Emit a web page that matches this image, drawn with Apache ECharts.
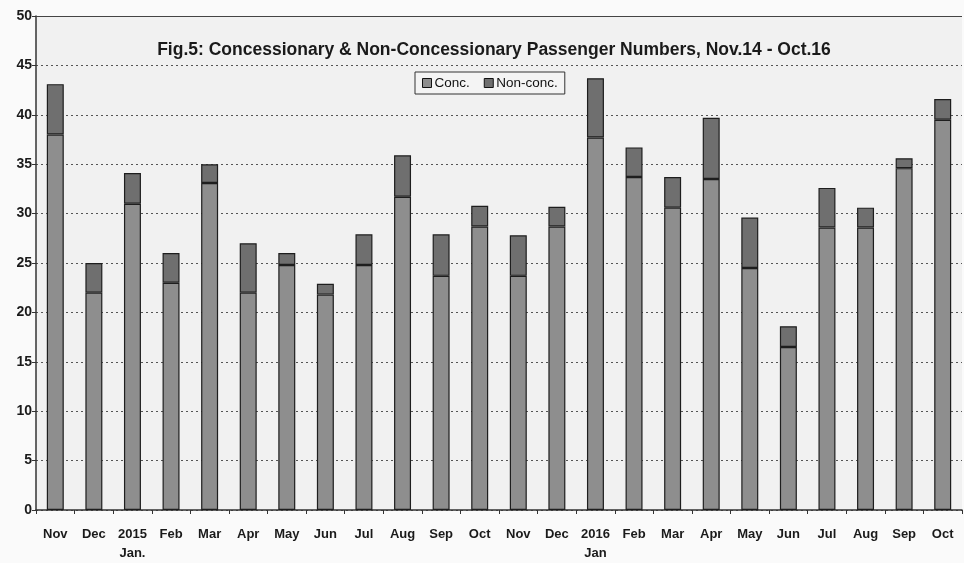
<!DOCTYPE html>
<html><head><meta charset="utf-8">
<script src="https://cdn.jsdelivr.net/npm/echarts@6/dist/echarts.min.js"></script>
<style>html,body{margin:0;padding:0;background:#fafafa}#c{width:964px;height:563px}</style>
</head><body><div id="c"></div>
<script>
const categories = ["Nov","Dec","2015\nJan.","Feb","Mar","Apr","May","Jun","Jul","Aug","Sep","Oct",
                    "Nov","Dec","2016\nJan","Feb","Mar","Apr","May","Jun","Jul","Aug","Sep","Oct"];
const conc    = [38,22,31,23,33.1,22,24.8,21.8,24.8,31.7,23.7,28.7, 23.7,28.7,37.7,33.7,30.6,33.5,24.5,16.5,28.6,28.6,34.6,39.5];
const total   = [43.1,25,34.1,26,35,27,26,22.9,27.9,35.9,27.9,30.8, 27.8,30.7,43.7,36.7,33.7,39.7,29.6,18.6,32.6,30.6,35.6,41.6];
const nonConc = total.map((t,i)=>+(t-conc[i]).toFixed(1));
const yTicks = [0,5,10,15,20,25,30,35,40,45,50];

const chart = echarts.init(document.getElementById('c'));
const font = 'Liberation Sans, Arial, sans-serif';
chart.setOption({
  backgroundColor:'#fafafa',
  animation:false,
  title:{text:'Fig.5: Concessionary & Non-Concessionary Passenger Numbers, Nov.14 - Oct.16',
    left:489, top:36, textAlign:'center',
    textStyle:{fontFamily:font,fontSize:17.5,fontWeight:'bold',color:'#1a1a1a'}},
  legend:{left:415, top:72, itemWidth:9, itemHeight:9, itemGap:14, padding:[4,7],
    icon:'rect',
    borderColor:'#333', borderWidth:1, backgroundColor:'#f4f4f4',
    itemStyle:{borderColor:'#111',borderWidth:1},
    textStyle:{fontFamily:font,fontSize:13.5,color:'#111',padding:[0,0,0,-2]},
    data:['Conc.','Non-conc.']},
  grid:{left:36,right:2,top:16,bottom:53,show:true,backgroundColor:'#f1f1f1',borderWidth:0},
  xAxis:{type:'category',data:categories,
    axisLine:{lineStyle:{color:'#333',width:1.5}},
    axisTick:{show:true,length:4,lineStyle:{color:'#333'}},
    axisLabel:{fontFamily:font,fontSize:13,fontWeight:'bold',color:'#1a1a1a',margin:15,lineHeight:19,interval:0}},
  yAxis:{type:'value',min:0,max:50,interval:5,
    axisLine:{show:true,lineStyle:{color:'#333',width:1.5}},
    axisTick:{show:true,length:4,lineStyle:{color:'#333'}},
    axisLabel:{fontFamily:font,fontSize:14,fontWeight:'bold',color:'#1a1a1a',margin:4,
      formatter:v=>yTicks.includes(v)?String(v):''},
    splitLine:{show:true,lineStyle:{color:'#555',type:[2,3],width:1}}},
  series:[
    {name:'Conc.',type:'bar',stack:'a',data:conc,barWidth:'44%',
      itemStyle:{color:'#8e8e8e',borderColor:'#1e1e1e',borderWidth:1.2}},
    {name:'Non-conc.',type:'bar',stack:'a',data:nonConc,barWidth:'44%',
      itemStyle:{color:'#6f6f6f',borderColor:'#1e1e1e',borderWidth:1.2}},
    {type:'line',data:[],markLine:{silent:true,symbol:'none',label:{show:false},
      lineStyle:{color:'#444',type:'solid',width:1.2},data:[{yAxis:50}]}}
  ]
});
</script></body></html>
